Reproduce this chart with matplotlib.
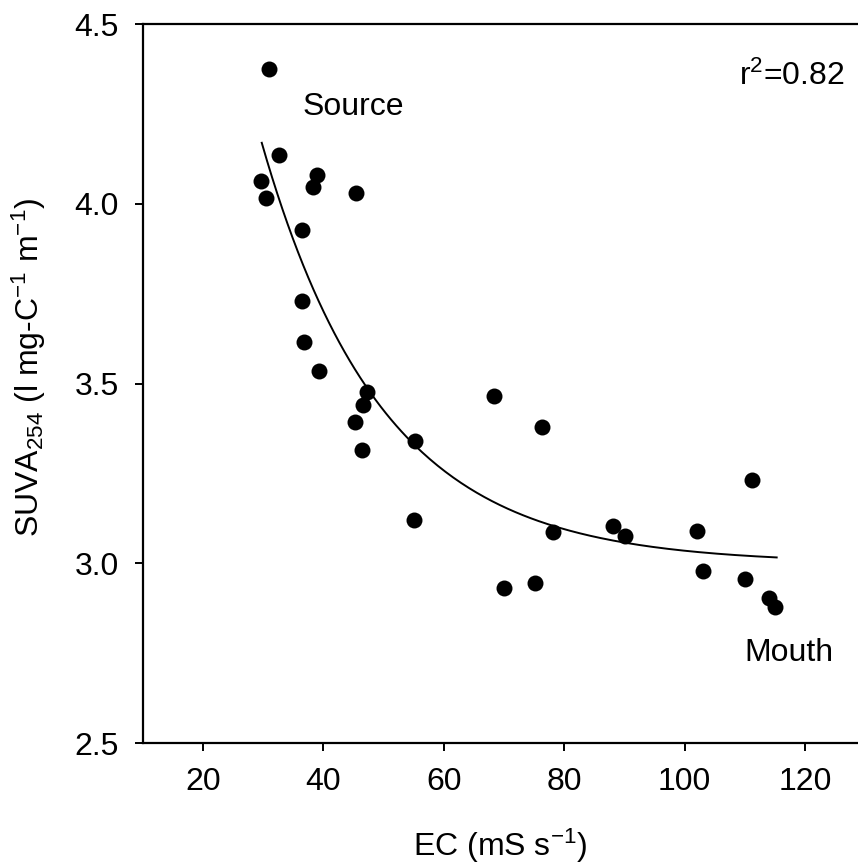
import numpy as np
import matplotlib
matplotlib.use("Agg")
import matplotlib.pyplot as plt

plt.rcParams["font.family"] = ["Liberation Sans", "DejaVu Sans"]
plt.rcParams["mathtext.default"] = "regular"

# EC (mS s-1) and SUVA254 values
ec = [31.0, 32.7, 29.6, 30.5, 39.0, 38.3, 45.4, 36.5, 36.5, 36.8,
      39.3, 47.2, 46.6, 45.3, 46.5, 55.3, 55.1, 68.3, 76.3, 78.2,
      88.2, 90.1, 102.1, 111.2, 70.1, 75.1, 103.1, 110.1, 114.0, 115.0]
suva = [4.374, 4.137, 4.063, 4.015, 4.079, 4.048, 4.030, 3.927, 3.729, 3.615,
        3.535, 3.476, 3.440, 3.394, 3.315, 3.340, 3.120, 3.466, 3.380, 3.088,
        3.104, 3.076, 3.091, 3.232, 2.930, 2.944, 2.978, 2.956, 2.904, 2.879]

# exponential decay fit y = a + b*exp(-c*x), parameters estimated from the drawn curve
fit_a, fit_b, fit_c = 3.0, 5.19, 0.05
fit_range = (29.8, 115.3)

fs = 23

fig = plt.figure(figsize=(8.58, 8.65), dpi=100)
ax = fig.add_axes([0.1661, 0.1410, 0.8423, 0.8312])

xf = np.linspace(fit_range[0], fit_range[1], 200)
ax.plot(xf, fit_a + fit_b * np.exp(-fit_c * xf), color="black", lw=1.4)
ax.plot(ec, suva, "o", color="black", markersize=11.5, markeredgewidth=0)

ax.set_xlim(10, 130)
ax.set_ylim(2.5, 4.5)
ax.set_xticks([20, 40, 60, 80, 100, 120])
ax.set_yticks([2.5, 3.0, 3.5, 4.0, 4.5])
ax.set_yticklabels(["2.5", "3.0", "3.5", "4.0", "4.5"])
ax.tick_params(direction="out", length=6, width=1.4, labelsize=fs, pad=11)
ax.spines["right"].set_visible(False)
for s in ["left", "bottom", "top"]:
    ax.spines[s].set_linewidth(1.6)

ax.text(36.5, 4.269, "Source", fontsize=fs, ha="left", va="center")
ax.text(109.9, 2.750, "Mouth", fontsize=fs, ha="left", va="center")
ax.text(109.0, 4.355, r"r$^2$=0.82", fontsize=fs, ha="left", va="center")

fig.text(29 / 858, 1 - 367 / 865, r"SUVA$_{254}$ (l mg-C$^{-1}$ m$^{-1}$)",
         fontsize=fs, rotation=90, ha="center", va="center")
fig.text(500 / 858, 1 - 846 / 865, r"EC (mS s$^{-1}$)",
         fontsize=fs, ha="center", va="center")

fig.savefig("out.png", dpi=100)
